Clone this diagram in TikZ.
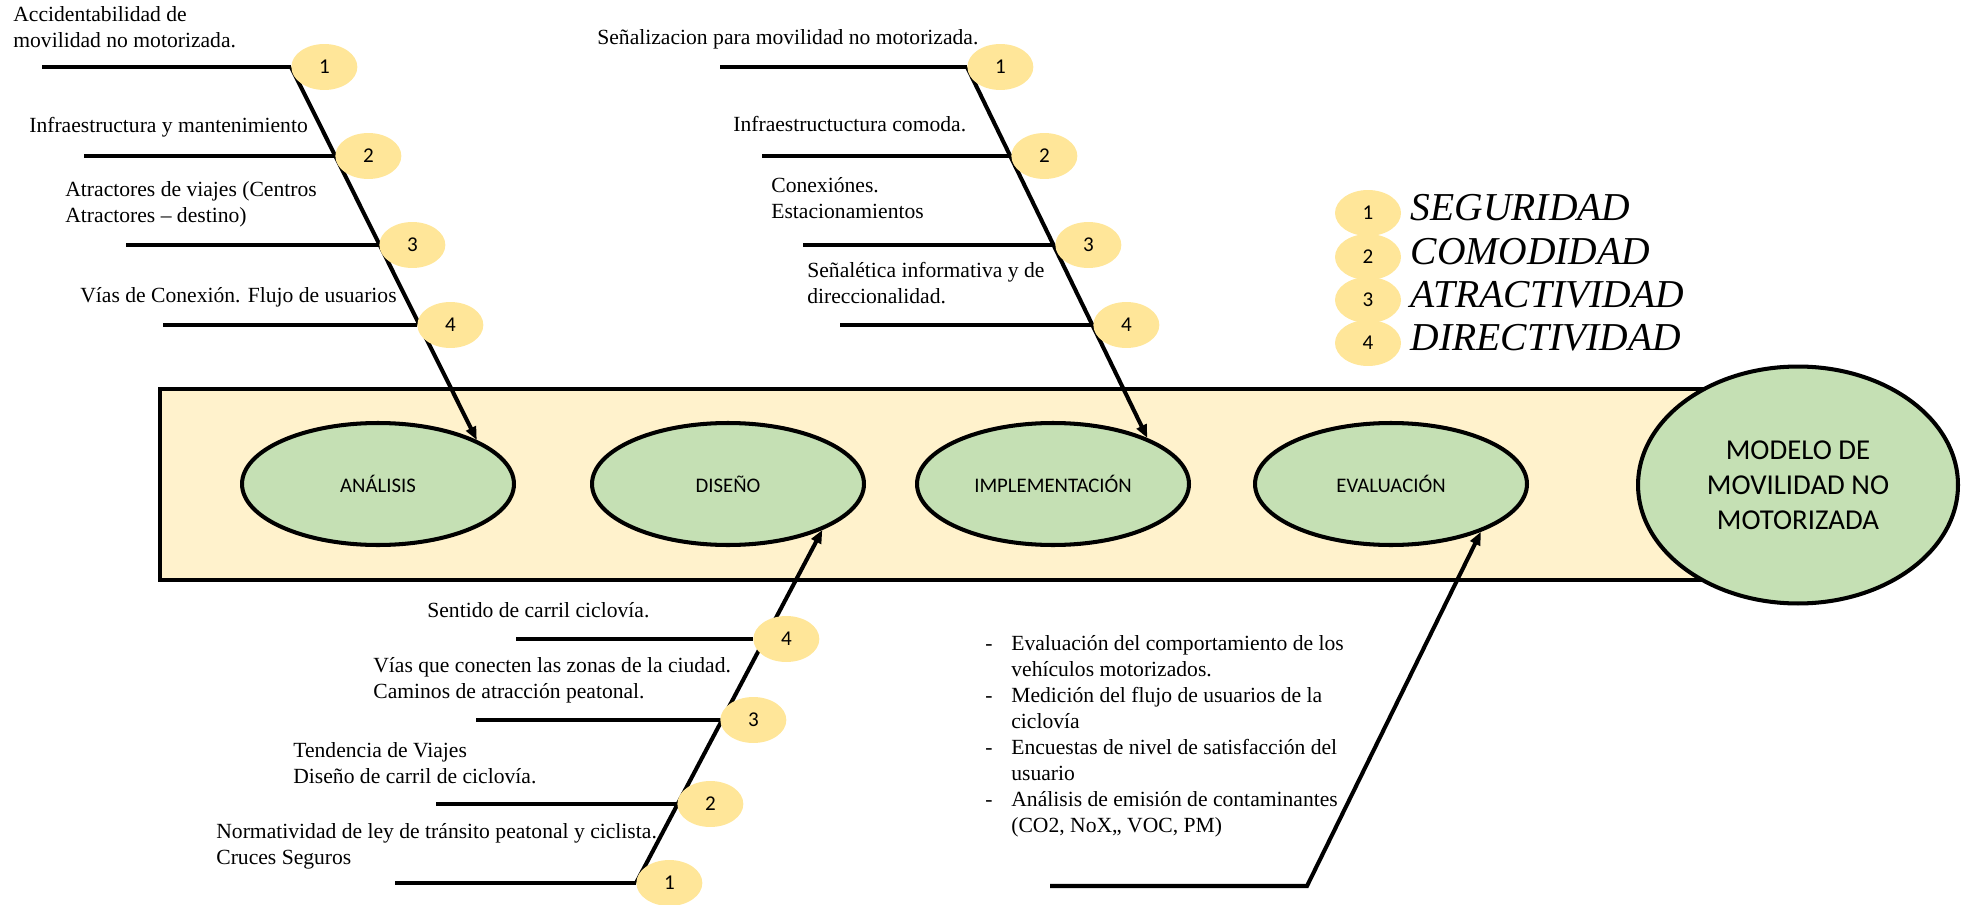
\documentclass[tikz,border=0pt]{standalone}
\usepackage{fontspec}
\setmainfont{Liberation Serif}
\newfontfamily\calibri{Carlito}
\usepackage{tikz}
\usetikzlibrary{arrows.meta}
\usetikzlibrary{shapes.geometric,positioning}
\definecolor{cream}{RGB}{255,242,204}
\definecolor{leafgreen}{RGB}{197,224,180}
\definecolor{sand}{RGB}{255,230,153}
\tikzset{
    % elipses verdes de las etapas
    stage/.style={
        ellipse, draw=black, line width=2.3pt, fill=leafgreen,
        minimum width=5.44cm, minimum height=2.44cm, inner sep=0pt,
        font=\calibri\fontsize{11.8}{14}\selectfont
    },
    % circulos amarillos numerados
    numdot/.style={
        ellipse, fill=sand, minimum width=1.32cm, minimum height=0.92cm,
        inner sep=0pt, font=\calibri\fontsize{12}{14}\selectfont
    },
    bone/.style={line width=2.3pt, black},
    spinearrow/.style={
        line width=2.3pt, black,
        -{Triangle[length=7.5pt, width=6pt]}
    },
    % el ancla base de un texto de dos lineas es la ultima linea
    cause/.style={
        anchor=base west, align=left, inner sep=0pt,
        font=\fontsize{12.3}{14.8}\selectfont
    },
    keytext/.style={
        inner sep=0pt, font=\itshape\fontsize{22.5}{26}\selectfont
    }
}

\begin{document}
\begin{tikzpicture}[x=0.02cm, y=-0.02cm]
\useasboundingbox (0,0) rectangle (1966,905);

% ===================== franja central =====================
\draw[line width=2.3pt, fill=cream] (160,389) rectangle (1720,580);

\node[stage] (analisis) at (378,484) {ANÁLISIS};
\node[stage] (diseno) at (728,484) {DISEÑO};
\node[stage] (implem) at (1053,484) {IMPLEMENTACIÓN};
\node[stage] (evalua) at (1391,484) {EVALUACIÓN};
\node[stage, minimum width=6.4cm, minimum height=4.74cm, align=center,
      font=\calibri\fontsize{16.4}{19.9}\selectfont] (modelo) at (1798,485)
      {MODELO DE\\MOVILIDAD NO\\MOTORIZADA};

% ===================== rama ANÁLISIS =====================
\path
(291,67) coordinate (a1)
(335,156) coordinate (a2)
(379,245) coordinate (a3)
(417,325) coordinate (a4);
\draw[spinearrow] (a1) -- (analisis.24);
\foreach \p/\len in {a1/249, a2/251, a3/253, a4/254}
    \draw[bone] (\p) -- ++(-\len,0);
\foreach \k in {1,...,4}
    \node[numdot, anchor=west] (na\k) at (a\k) {\k};

\node[cause] (ta1) at (13,48) {Accidentabilidad de\\movilidad no motorizada.};
\node[cause] (ta2) at (29,133) {Infraestructura y mantenimiento};
\node[cause] (ta3) at (65,223) {Atractores de viajes (Centros\\Atractores – destino)};
\node[cause] (ta4) at (80,303) {Vías de Conexión. Flujo de usuarios};

% ===================== rama IMPLEMENTACIÓN =====================
\path
(967,67) coordinate (i1)
(1011,156) coordinate (i2)
(1055,245) coordinate (i3)
(1093,325) coordinate (i4);
\draw[spinearrow] (i1) -- (implem.26);
\foreach \p/\len in {i1/247, i2/249, i3/252, i4/253}
    \draw[bone] (\p) -- ++(-\len,0);
\foreach \k in {1,...,4}
    \node[numdot, anchor=west] (ni\k) at (i\k) {\k};

\node[cause] (ti1) at (597,45) {Señalizacion para movilidad no motorizada.};
\node[cause] (ti2) at (733,132) {Infraestructuctura comoda.};
\node[cause] (ti3) at (771,219) {Conexiónes.\\Estacionamientos};
\node[cause] (ti4) at (807,304) {Señalética informativa y de\\direccionalidad.};

% ===================== rama DISEÑO =====================
\path
(636,883) coordinate (d1)
(677,804) coordinate (d2)
(720,720) coordinate (d3)
(753,639) coordinate (d4);
\draw[spinearrow] (d1) -- (diseno.-26);
\foreach \p/\len in {d1/241, d2/241, d3/244, d4/237}
    \draw[bone] (\p) -- ++(-\len,0);
\foreach \k in {1,...,4}
    \node[numdot, anchor=west] (nd\k) at (d\k) {\k};

\node[cause] (td4) at (427,617) {Sentido de carril ciclovía.};
\node[cause] (td3) at (373,698) {Vías que conecten las zonas de la ciudad.\\Caminos de atracción peatonal.};
\node[cause] (td2) at (293,783) {Tendencia de Viajes\\Diseño de carril de ciclovía.};
\node[cause] (td1) at (216,864) {Normatividad de ley de tránsito peatonal y ciclista.\\Cruces Seguros};

% ===================== rama EVALUACIÓN =====================
\path
(1050,886) coordinate (e0)
(1307,886) coordinate (e1);
\draw[spinearrow] (e0) -- (e1) -- (evalua.-28);
\node[anchor=base west, inner sep=0pt, font=\fontsize{12.3}{14.8}\selectfont] (te) at (985,650)
{\begin{tabular}[t]{@{}p{0.52cm}@{}l@{}}
-&Evaluación del comportamiento de los\\
 &vehículos motorizados.\\
-&Medición del flujo de usuarios de la\\
 &ciclovía\\
-&Encuestas de nivel de satisfacción del\\
 &usuario\\
-&Análisis de emisión de contaminantes\\
 &(CO2, NoX,, VOC, PM)
\end{tabular}};

% ===================== leyenda =====================
\foreach \k/\y/\name in {1/213/SEGURIDAD, 2/257/COMODIDAD, 3/300/ATRACTIVIDAD, 4/343/DIRECTIVIDAD}{
    \node[numdot] (key\k) at (1368,\y) {\k};
    \node[keytext, right=0.18cm of key\k, anchor=base west, yshift=-4pt] (keyname\k) {\name};
}
\end{tikzpicture}
\end{document}
